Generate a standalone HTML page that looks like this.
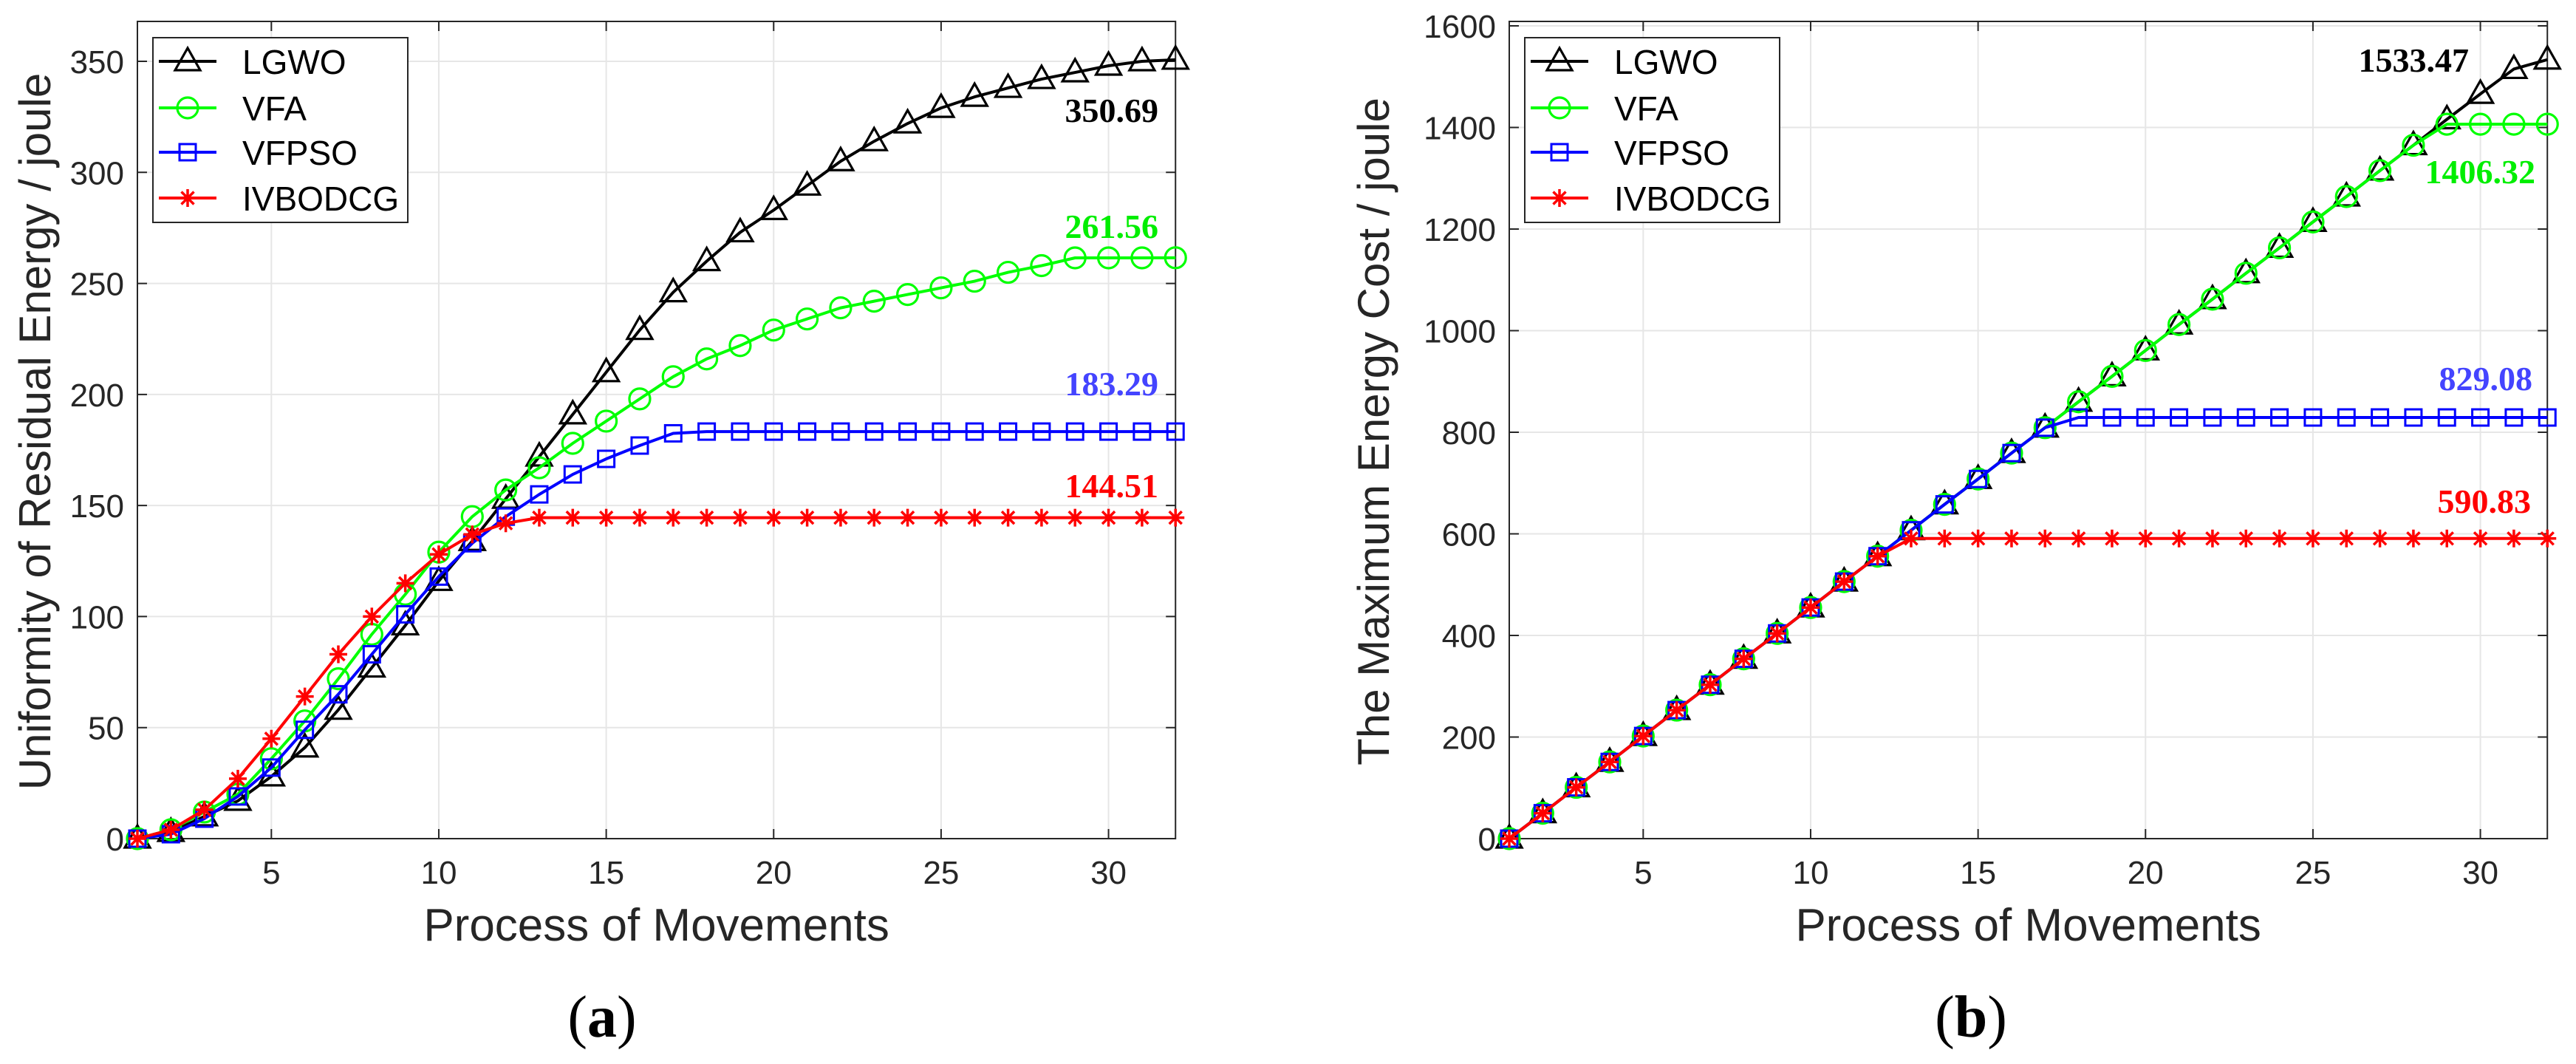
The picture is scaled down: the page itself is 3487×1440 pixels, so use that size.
<!DOCTYPE html>
<html><head><meta charset="utf-8"><style>
html,body{margin:0;padding:0;background:#fff;}
svg{display:block;}
</style></head><body>
<svg id="fig" width="3487" height="1440" viewBox="0 0 3487 1440" xmlns="http://www.w3.org/2000/svg"></svg>
<script>
const xs = Array.from({length:32},(_,i)=>i+1);
const seriesNames = ["LGWO","VFA","VFPSO","IVBODCG"];
const seriesColors = ["#000000","#00ff00","#0000ff","#ff0000"];
const xTicks = [5,10,15,20,25,30];
const aTicks = [0,50,100,150,200,250,300,350];
const bTicks = [0,200,400,600,800,1000,1200,1400,1600];
const aLGWO = [0,3,10,17,28,41,58,77,96,116,134,153,172,191,210,229,246,260,273,283,294,305,314,322,329,334,338,342,345,348,350,350.69];
const aVFA = [0,4,12,20,36,53,72,92,110,129,145,157,167,178,188,198,208,216,222,229,234,239,242,245,248,251,255,258,261.5,261.5,261.5,261.56];
const aVFPSO = [0,2,9,19,32,49,65,83,101,118,133,145,155,164,171,177,182.5,183.29,183.29,183.29,183.29,183.29,183.29,183.29,183.29,183.29,183.29,183.29,183.29,183.29,183.29,183.29];
const aIVB = [0,4,13,27,45,64,83,100,115,128,137,142,144.51,144.51,144.51,144.51,144.51,144.51,144.51,144.51,144.51,144.51,144.51,144.51,144.51,144.51,144.51,144.51,144.51,144.51,144.51,144.51];
const bLGWO = [0,50,101,151,202,253,303,354,404,455,506,556,607,658,708,759,809,860,910,961,1012,1062,1113,1163,1214,1264,1315,1365,1416,1466,1515,1533.47];
const bVFA = [0,50,101,151,202,253,303,354,404,455,506,556,607,658,708,759,809,860,910,961,1012,1062,1113,1163,1214,1264,1315,1365,1406.32,1406.32,1406.32,1406.32];
const bVFPSO = [0,50,101,151,202,253,303,354,404,455,506,556,607,658,708,759,809,829.08,829.08,829.08,829.08,829.08,829.08,829.08,829.08,829.08,829.08,829.08,829.08,829.08,829.08,829.08];
const bIVB = [0,50,101,151,202,253,303,354,404,455,506,556,590.83,590.83,590.83,590.83,590.83,590.83,590.83,590.83,590.83,590.83,590.83,590.83,590.83,590.83,590.83,590.83,590.83,590.83,590.83,590.83];
const aFinal = ["350.69","261.56","183.29","144.51"];
const bFinal = ["1533.47","1406.32","829.08","590.83"];

const NS="http://www.w3.org/2000/svg";
const svg=document.getElementById('fig');
function mk(tag,attrs,parent){const e=document.createElementNS(NS,tag);for(const k in attrs)e.setAttribute(k,attrs[k]);(parent||svg).appendChild(e);return e;}

function marker(g,type,cx,cy,color){
  let m;
  if(type===0){m=mk('polygon',{points:`${cx},${cy-18} ${cx-17},${cy+12} ${cx+17},${cy+12}`,fill:'none',stroke:color,'stroke-width':3.2},g);}
  else if(type===1){m=mk('circle',{cx:cx,cy:cy,r:14,fill:'none',stroke:color,'stroke-width':3.2},g);}
  else if(type===2){m=mk('rect',{x:cx-11,y:cy-11,width:22,height:22,fill:'none',stroke:color,'stroke-width':3},g);}
  else {const s=12,d=8.5;m=mk('path',{d:`M${cx} ${cy-s}V${cy+s}M${cx-s} ${cy}H${cx+s}M${cx-d} ${cy-d}L${cx+d} ${cy+d}M${cx-d} ${cy+d}L${cx+d} ${cy-d}`,fill:'none',stroke:color,'stroke-width':3.5},g);}
  
  
}

function panel(p){
  const L=p.left,R=p.left+31*45.33,T=29,B=1135;
  const sx=v=>L+(v-1)*(R-L)/31;
  const sy=v=>B-(v)*(B-p.y0px)/p.yref;
  const g=mk('g',{});
  
  
  xTicks.forEach(t=>{const l=mk('line',{x1:sx(t),x2:sx(t),y1:T,y2:B,stroke:'#e6e6e6','stroke-width':2},g);});
  p.yTicks.forEach(t=>{const l=mk('line',{x1:L,x2:R,y1:sy(t),y2:sy(t),stroke:'#e6e6e6','stroke-width':2},g);});
  xTicks.forEach(t=>{
    mk('path',{d:`M${sx(t)} ${B}v-13M${sx(t)} ${T}v13`,stroke:'#262626','stroke-width':2},g);
    const tx=mk('text',{x:sx(t),y:1196,'text-anchor':'middle','font-size':44,fill:'#262626','font-family':'Liberation Sans, sans-serif'},g);
    tx.textContent=t;
    
    
  });
  p.yTicks.forEach(t=>{
    mk('path',{d:`M${L} ${sy(t)}h13M${R} ${sy(t)}h-13`,stroke:'#262626','stroke-width':2},g);
    const tx=mk('text',{x:L-18,y:sy(t)+16,'text-anchor':'end','font-size':44,fill:'#262626','font-family':'Liberation Sans, sans-serif'},g);
    tx.textContent=t;
    
    
  });
  const box=mk('rect',{x:L,y:T,width:R-L,height:B-T,fill:'none',stroke:'#262626','stroke-width':2},g);
  
  
  p.series.forEach((vals,i)=>{
    const sg=mk('g',{},g);
    
    
    const pts=vals.map((v,j)=>sx(xs[j])+','+sy(v)).join(' ');
    const pl=mk('polyline',{points:pts,fill:'none',stroke:seriesColors[i],'stroke-width':4,'stroke-linejoin':'round'},sg);
    
    
    vals.forEach((v,j)=>marker(sg,i,sx(xs[j]),sy(v),seriesColors[i]));
  });
  p.labels.forEach((lb,i)=>{
    const t=mk('text',{x:lb[0],y:lb[1],'text-anchor':'end','font-size':46,'font-weight':'bold',fill:p.labelColors[i],'font-family':'Liberation Serif, serif'},g);
    t.textContent=p.finals[i];
    
    
  });
  const lg=mk('g',{},g);
  
  
  mk('rect',{x:p.legX,y:51,width:345,height:250,fill:'#fff',stroke:'#262626','stroke-width':2},lg);
  const ly=[83,146,206,268];
  seriesNames.forEach((n,i)=>{
    const eg=mk('g',{},lg);
    
    
    mk('line',{x1:p.legX+8,x2:p.legX+86,y1:ly[i],y2:ly[i],stroke:seriesColors[i],'stroke-width':4},eg);
    marker(eg,i,p.legX+47,ly[i],seriesColors[i]);
    const t=mk('text',{x:p.legX+121,y:ly[i]+17,'font-size':46,fill:'#000','font-family':'Liberation Sans, sans-serif'},eg);
    t.textContent=n;
  });
  const xt=mk('text',{x:(L+R)/2,y:1273,'text-anchor':'middle','font-size':62,fill:'#262626','font-family':'Liberation Sans, sans-serif'},g);
  xt.textContent='Process of Movements';
  
  
  const yt=mk('text',{x:0,y:0,'text-anchor':'middle','font-size':60,fill:'#262626','font-family':'Liberation Sans, sans-serif',transform:`translate(${p.yTitleX},584) rotate(-90)`},g);
  yt.textContent=p.yTitle;
  
  
  const cap=mk('text',{x:p.capX,y:1403,'text-anchor':'middle','font-size':80,fill:'#000','font-family':'Liberation Serif, serif'},g);
  cap.innerHTML='(<tspan font-weight="bold">'+p.cap+'</tspan>)';
  
  
}

panel({name:'panel-a',left:186,y0px:83,yref:350/1,yTicks:aTicks,
  series:[aLGWO,aVFA,aVFPSO,aIVB],finals:aFinal,
  labels:[[1568,165],[1568,322],[1568,535],[1568,673]],
  labelColors:['#000','#00ee00','#4444ff','#ff0000'],
  legX:207,yTitleX:68,yTitle:'Uniformity of Residual Energy / joule',capX:815,cap:'a'});
panel({name:'panel-b',left:2043,y0px:35,yref:1600,yTicks:bTicks,
  series:[bLGWO,bVFA,bVFPSO,bIVB],finals:bFinal,
  labels:[[3342,97],[3432,248],[3428,528],[3426,694]],
  labelColors:['#000','#00ee00','#4444ff','#ff0000'],
  legX:2064,yTitleX:1880,yTitle:'The Maximum Energy Cost / joule',capX:2668,cap:'b'});
</script>
</body></html>
